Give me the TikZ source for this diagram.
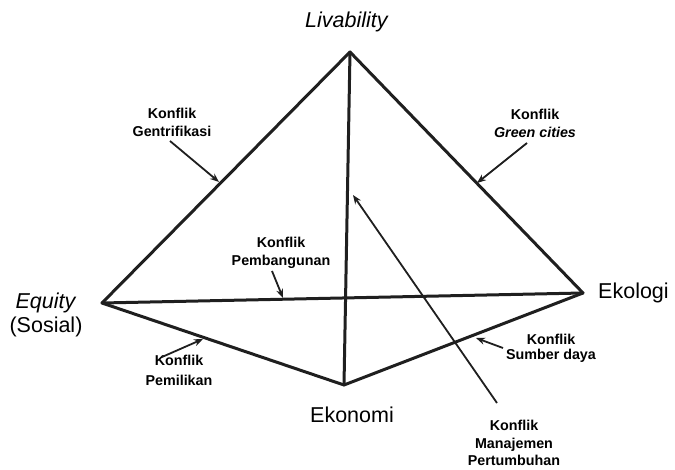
\documentclass[tikz,border=0pt]{standalone}
\usepackage{fontspec}
\setmainfont{Liberation Sans}
\usetikzlibrary{arrows.meta}
\begin{document}
\begin{tikzpicture}[x=1pt,y=-1pt,
  edge/.style={line width=3pt, draw=black!88, line cap=round, line join=round},
  ptr/.style={line width=1.8pt, draw=black!88, -{Stealth[length=9pt,width=7pt]}},
  big/.style={font=\fontsize{21.5}{24}\selectfont, inner sep=0pt, align=center},
  lbl/.style={font=\bfseries\fontsize{14.3}{18}\selectfont, align=center, inner sep=0pt}]
\useasboundingbox (0,0) rectangle (675,470);
% vertices
\coordinate (A) at (350,52);
\coordinate (E) at (102,303);
\coordinate (G) at (583,293);
\coordinate (K) at (344,385);
% edges
\draw[edge] (A) -- (E);
\draw[edge] (A) -- (G);
\draw[edge] (A) -- (K);
\draw[edge] (E) -- (G);
\draw[edge] (E) -- (K);
\draw[edge] (K) -- (G);
% vertex labels
\node[big] (liv) at (347,22) {\textit{Livability}};
\node[big] (eq) at (46,315) {\textit{Equity}\\(Sosial)};
\node[big, anchor=west] (eko) at (598,293) {Ekologi};
\node[big] (ekn) at (352,415) {Ekonomi};
% conflict labels
\node[lbl] (kg) at (172,122) {Konflik\\Gentrifikasi};
\node[lbl] (kc) at (535,123) {Konflik\\\textit{Green cities}};
\node[lbl] (kp) at (281,253) {Konflik\\Pembangunan};
\node[lbl, font=\bfseries\fontsize{14.3}{20}\selectfont] (km) at (179,370) {Konflik\\Pemilikan};
\node[lbl, font=\bfseries\fontsize{14.3}{15}\selectfont] (ks) at (551,348) {Konflik\\Sumber daya};
\node[lbl, font=\bfseries\fontsize{14.3}{17.5}\selectfont] (kmp) at (514,443) {Konflik\\Manajemen\\Pertumbuhan};
% arrow ends
\coordinate (g1) at (170,141);
\coordinate (g2) at (219,182);
\coordinate (c1) at (527,143);
\coordinate (c2) at (477,183);
\coordinate (p1) at (272,271);
\coordinate (p2) at (283,298);
\coordinate (m1) at (162,357);
\coordinate (m2) at (203,339);
\coordinate (s1) at (503,348);
\coordinate (s2) at (476,338);
\coordinate (n1) at (497,403);
\coordinate (n2) at (353,195);
\draw[ptr] (g1) -- (g2);
\draw[ptr] (c1) -- (c2);
\draw[ptr] (p1) -- (p2);
\draw[ptr] (m1) -- (m2);
\draw[ptr] (s1) -- (s2);
\draw[ptr] (n1) -- (n2);
\end{tikzpicture}
\end{document}
